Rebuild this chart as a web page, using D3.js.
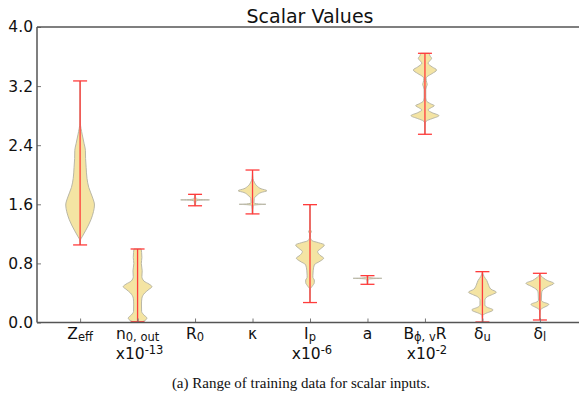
<!DOCTYPE html>
<html>
<head>
<meta charset="utf-8">
<script src="https://cdn.jsdelivr.net/npm/d3@7"></script>
<style>
body { margin: 0; background: #fff; }
svg { display: block; }
</style>
</head>
<body>
<svg id="chart" width="579" height="397"></svg>
<script>
// label parts: main letter, subscript, trailing text, exponent of the scale line
var names = ["Z", "n", "R", "\u03ba", "I", "a", "B", "\u03b4", "\u03b4"];
var subs = ["eff", "0, out", "0", "", "p", "", "\u03d5, v", "u", "l"];
var after = ["", "", "", "", "", "", "R", "", ""];
var scaleExp = ["", "-13", "", "", "-6", "", "-2", "", ""];

// min / max of each input (red bars)
var mins = [1.05, 0.01, 1.58, 1.47, 0.27, 0.517, 2.548, 0.007, 0.034];
var maxs = [3.27, 0.995, 1.735, 2.064, 1.595, 0.634, 3.644, 0.688, 0.666];

// density profile of each violin: [value, relative half width]
var profZeff = [[1.05,0],[1.12,0.03],[1.16,0.14],[1.25,0.4],[1.39,0.75],[1.5,0.93],[1.59,1.0],[1.7,0.85],[1.83,0.6],[1.95,0.48],[2.1,0.42],[2.22,0.38],[2.33,0.37],[2.42,0.28],[2.55,0.14],[2.7,0.02],[3.27,0]];
var profN0 = [[0.0,0],[0.02,0.45],[0.06,0.65],[0.1,0.45],[0.15,0.28],[0.25,0.27],[0.33,0.3],[0.4,0.5],[0.45,0.8],[0.485,1.0],[0.52,0.8],[0.56,0.45],[0.62,0.3],[0.7,0.32],[0.8,0.26],[0.88,0.3],[0.95,0.28],[0.995,0.25]];
var profR0 = [[1.58,0.03],[1.645,0.06],[1.655,0.35],[1.66,1.0],[1.665,0.35],[1.675,0.06],[1.735,0.02]];
var profKappa = [[1.469,0.02],[1.585,0.05],[1.595,0.4],[1.6,0.93],[1.605,0.4],[1.62,0.1],[1.68,0.12],[1.72,0.3],[1.76,0.6],[1.784,1.0],[1.81,0.6],[1.85,0.3],[1.9,0.12],[1.95,0.03],[2.064,0]];
var profIp = [[0.268,0],[0.45,0.02],[0.49,0.15],[0.54,0.3],[0.575,0.3],[0.61,0.2],[0.64,0.2],[0.7,0.22],[0.78,0.3],[0.83,0.7],[0.87,0.95],[0.91,0.7],[0.96,0.53],[1.0,0.75],[1.05,1.0],[1.08,0.6],[1.107,0.15],[1.15,0.03],[1.2,0.02],[1.23,0.1],[1.26,0.02],[1.595,0]];
var profA = [[0.517,0.02],[0.585,0.05],[0.594,0.4],[0.598,1.0],[0.602,0.4],[0.612,0.05],[0.634,0.02]];
var profB = [[2.548,0],[2.7,0.02],[2.728,0.1],[2.76,0.5],[2.8,0.97],[2.84,0.5],[2.877,0.22],[2.91,0.45],[2.935,0.65],[2.96,0.4],[3.0,0.1],[3.05,0.06],[3.15,0.06],[3.2,0.12],[3.224,0.16],[3.25,0.12],[3.3,0.08],[3.327,0.15],[3.37,0.5],[3.418,0.81],[3.46,0.5],[3.51,0.22],[3.545,0.35],[3.576,0.46],[3.61,0.35],[3.644,0.3]];
var profDu = [[0.007,0],[0.1,0.03],[0.12,0.2],[0.17,0.74],[0.21,0.3],[0.237,0.17],[0.3,0.17],[0.35,0.35],[0.38,0.7],[0.41,0.97],[0.45,0.6],[0.52,0.4],[0.57,0.3],[0.62,0.12],[0.688,0]];
var profDl = [[0.034,0],[0.17,0.03],[0.19,0.15],[0.246,0.62],[0.28,0.2],[0.3,0.1],[0.4,0.12],[0.44,0.2],[0.49,0.6],[0.53,0.97],[0.57,0.5],[0.598,0.28],[0.63,0.08],[0.666,0]];
var profiles = [profZeff, profN0, profR0, profKappa, profIp, profA, profB, profDu, profDl];

var yTicks = [0, 0.8, 1.6, 2.4, 3.2, 4.0];

var svg = d3.select("#chart");
var plotL = 37, plotR = 583, plotT = 27, plotB = 322.5;
var spineColor = "#555";
var labelSize = "15.5px", subSize = "11.5px";

var x = d3.scaleLinear().domain([0.25, 9.75]).range([plotL, plotR]);
var y = d3.scaleLinear().domain([0, 4]).range([plotB, plotT]);
var halfMax = 0.25; // matplotlib widths=0.5

// violins
var g = svg.append("g");
for (var i = 0; i < profiles.length; i++)
{
	var pos = i + 1;
	var area = d3.area()
		.curve(d3.curveMonotoneY)
		.y(function(d){ return y(d[0]); })
		.x0(function(d){ return x(pos - d[1] * halfMax); })
		.x1(function(d){ return x(pos + d[1] * halfMax); });

	g.append("path")
	  .datum(profiles[i])
	  .attr("d", area)
	  .attr("fill", "#f4e4a3")
	  .attr("stroke", "#b9b7a6")
	  .attr("stroke-width", 1);

	// red range bar with caps
	var c = x(pos);
	g.append("line")
	  .attr("x1", c).attr("x2", c)
	  .attr("y1", y(mins[i])).attr("y2", y(maxs[i]))
	  .attr("stroke", "#ff3b3b").attr("stroke-width", 1.3);
	[mins[i], maxs[i]].forEach(function(v){
		g.append("line")
		  .attr("x1", c - 7).attr("x2", c + 7)
		  .attr("y1", y(v)).attr("y2", y(v))
		  .attr("stroke", "#ff3b3b").attr("stroke-width", 1.3);
	});
}

// y axis
var yAxis = d3.axisLeft(y)
	.tickValues(yTicks)
	.tickFormat(d3.format(".1f"))
	.tickSizeInner(-4)
	.tickSizeOuter(0)
	.tickPadding(4);
var gy = svg.append("g")
	.attr("transform", "translate(" + plotL + ",0)")
	.call(yAxis);
gy.select(".domain").remove();
gy.selectAll("line").attr("stroke", "#777");
gy.selectAll("text")
  .attr("font-family", "DejaVu Sans")
  .attr("font-size", labelSize)
  .attr("fill", "#111");

// x axis
var xAxis = d3.axisBottom(x)
	.tickValues(d3.range(1, 10))
	.tickFormat("")
	.tickSizeInner(-4)
	.tickSizeOuter(0);
var gx = svg.append("g")
	.attr("transform", "translate(0," + plotB + ")")
	.call(xAxis);
gx.select(".domain").remove();
gx.selectAll("line").attr("stroke", "#777");

// x labels with subscripts
for (var i = 0; i < names.length; i++)
{
	var t = svg.append("text")
		.attr("x", x(i + 1))
		.attr("y", 339)
		.attr("text-anchor", "middle")
		.attr("font-family", "DejaVu Sans")
		.attr("font-size", labelSize)
		.attr("fill", "#111");
	t.append("tspan").text(names[i]);
	if (subs[i] != "")
	{
		t.append("tspan").attr("font-size", subSize).attr("dy", 1.5).text(subs[i]);
		if (after[i] != "")
		{
			t.append("tspan").attr("dy", -1.5).text(after[i]);
		}
	}
	if (scaleExp[i] != "")
	{
		var t2 = svg.append("text")
			.attr("x", x(i + 1) + 2)
			.attr("y", 359)
			.attr("text-anchor", "middle")
			.attr("font-family", "DejaVu Sans")
			.attr("font-size", labelSize)
			.attr("fill", "#111");
		t2.append("tspan").text("x10");
		t2.append("tspan").attr("font-size", subSize).attr("dy", -5).text(scaleExp[i]);
	}
}

// spines (right one is cut off by the image edge)
svg.append("line").attr("x1", plotL).attr("x2", plotL).attr("y1", plotT).attr("y2", plotB)
   .attr("stroke", spineColor).attr("stroke-width", 1.5);
svg.append("line").attr("x1", plotL).attr("x2", plotR).attr("y1", plotT).attr("y2", plotT)
   .attr("stroke", spineColor).attr("stroke-width", 1.5);
svg.append("line").attr("x1", plotL).attr("x2", plotR).attr("y1", plotB).attr("y2", plotB)
   .attr("stroke", spineColor).attr("stroke-width", 1.5);

// title
svg.append("text")
  .attr("x", (plotL + plotR) / 2)
  .attr("y", 23)
  .attr("text-anchor", "middle")
  .attr("font-family", "DejaVu Sans")
  .attr("font-size", "19px")
  .attr("fill", "#111")
  .text("Scalar Values");

// caption
svg.append("text")
  .attr("x", 301)
  .attr("y", 388)
  .attr("text-anchor", "middle")
  .attr("font-family", "Liberation Serif")
  .attr("font-size", "15px")
  .attr("fill", "#111")
  .text("(a) Range of training data for scalar inputs.");
</script>
</body>
</html>
